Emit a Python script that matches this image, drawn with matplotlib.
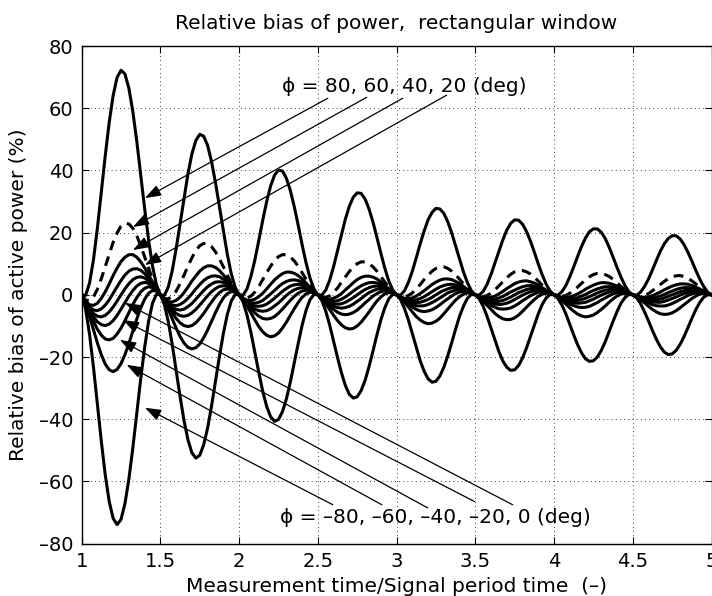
import numpy as np
import matplotlib
matplotlib.use("Agg")
import matplotlib.pyplot as plt

plt.rcParams['font.family'] = ['DejaVu Sans']

# measurement time / signal period time, 1 ... 5
x_ratio = np.linspace(1.0, 5.0, 161)

# relative bias of active power (%) for each phase angle
phi80 = [
    0, -0.2, 3.8, 11.3, 21.5, 33.0, 44.8, 55.5, 64.1, 69.9, 72.2, 71.0, 66.4, 58.9, 49.4, 38.6, 27.7, 17.6, 9.2, 3.2,
    0, -0.2, 2.5, 7.7, 14.8, 22.9, 31.2, 38.9, 45.3, 49.6, 51.6, 51.0, 48.0, 42.8, 36.0, 28.3, 20.4, 13.0, 6.8, 2.4,
    0, -0.1, 1.9, 5.9, 11.2, 17.5, 24.0, 30.0, 35.0, 38.5, 40.1, 39.8, 37.5, 33.6, 28.4, 22.4, 16.1, 10.3, 5.4, 1.9,
    0, -0.1, 1.5, 4.7, 9.1, 14.2, 19.4, 24.4, 28.5, 31.4, 32.8, 32.6, 30.8, 27.6, 23.4, 18.5, 13.4, 8.6, 4.5, 1.6,
    0, -0.1, 1.3, 4.0, 7.6, 11.9, 16.4, 20.5, 24.1, 26.5, 27.8, 27.6, 26.2, 23.5, 19.9, 15.7, 11.4, 7.3, 3.9, 1.3,
    0, -0.1, 1.1, 3.4, 6.6, 10.3, 14.1, 17.7, 20.8, 23.0, 24.1, 24.0, 22.7, 20.4, 17.3, 13.7, 9.9, 6.4, 3.4, 1.2,
    0, -0.1, 1.0, 3.0, 5.8, 9.0, 12.4, 15.6, 18.3, 20.3, 21.2, 21.2, 20.1, 18.1, 15.3, 12.1, 8.8, 5.7, 3.0, 1.0,
    0, -0.1, 0.9, 2.7, 5.1, 8.0, 11.1, 14.0, 16.4, 18.1, 19.0, 19.0, 18.0, 16.2, 13.7, 10.9, 7.9, 5.1, 2.7, 0.9,
    0]

phi60 = [
    0, -1.7, -1.9, -0.7, 1.8, 5.2, 9.1, 13.1, 16.9, 19.9, 22.1, 23.0, 22.8, 21.4, 19.0, 15.8, 12.2, 8.5, 5.0, 2.1,
    0, -1.2, -1.3, -0.5, 1.2, 3.6, 6.3, 9.2, 11.9, 14.2, 15.8, 16.5, 16.5, 15.5, 13.8, 11.6, 9.0, 6.3, 3.7, 1.6,
    0, -0.9, -1.0, -0.4, 0.9, 2.7, 4.9, 7.1, 9.2, 11.0, 12.3, 12.9, 12.9, 12.2, 10.9, 9.2, 7.1, 5.0, 3.0, 1.3,
    0, -0.7, -0.8, -0.3, 0.8, 2.2, 4.0, 5.8, 7.5, 9.0, 10.0, 10.6, 10.6, 10.0, 9.0, 7.6, 5.9, 4.1, 2.5, 1.1,
    0, -0.6, -0.7, -0.2, 0.6, 1.9, 3.3, 4.9, 6.3, 7.6, 8.5, 9.0, 9.0, 8.5, 7.6, 6.4, 5.0, 3.5, 2.1, 0.9,
    0, -0.5, -0.6, -0.2, 0.5, 1.6, 2.9, 4.2, 5.5, 6.6, 7.4, 7.8, 7.8, 7.4, 6.7, 5.6, 4.4, 3.1, 1.9, 0.8,
    0, -0.4, -0.5, -0.2, 0.5, 1.4, 2.5, 3.7, 4.8, 5.8, 6.5, 6.9, 6.9, 6.5, 5.9, 5.0, 3.9, 2.7, 1.6, 0.7,
    0, -0.4, -0.4, -0.2, 0.4, 1.3, 2.3, 3.3, 4.3, 5.2, 5.8, 6.1, 6.2, 5.9, 5.3, 4.5, 3.5, 2.5, 1.5, 0.6,
    0]

phi40 = [
    0, -2.1, -3.2, -3.4, -2.7, -1.1, 1.0, 3.5, 6.2, 8.6, 10.7, 12.1, 12.9, 12.9, 12.1, 10.6, 8.7, 6.4, 4.1, 1.9,
    0, -1.4, -2.2, -2.3, -1.8, -0.8, 0.7, 2.5, 4.4, 6.1, 7.6, 8.7, 9.3, 9.3, 8.8, 7.8, 6.4, 4.8, 3.1, 1.4,
    0, -1.1, -1.7, -1.8, -1.4, -0.6, 0.5, 1.9, 3.4, 4.8, 5.9, 6.8, 7.3, 7.3, 6.9, 6.2, 5.1, 3.8, 2.4, 1.1,
    0, -0.8, -1.3, -1.4, -1.1, -0.5, 0.4, 1.6, 2.7, 3.9, 4.9, 5.6, 6.0, 6.0, 5.7, 5.1, 4.2, 3.1, 2.0, 0.9,
    0, -0.7, -1.1, -1.2, -1.0, -0.4, 0.4, 1.3, 2.3, 3.3, 4.1, 4.7, 5.1, 5.1, 4.9, 4.3, 3.6, 2.7, 1.7, 0.8,
    0, -0.6, -1.0, -1.0, -0.8, -0.4, 0.3, 1.1, 2.0, 2.8, 3.6, 4.1, 4.4, 4.5, 4.2, 3.8, 3.1, 2.3, 1.5, 0.7,
    0, -0.5, -0.8, -0.9, -0.7, -0.3, 0.3, 1.0, 1.8, 2.5, 3.1, 3.6, 3.9, 3.9, 3.7, 3.3, 2.8, 2.1, 1.3, 0.6,
    0, -0.5, -0.7, -0.8, -0.6, -0.3, 0.3, 0.9, 1.6, 2.2, 2.8, 3.2, 3.5, 3.5, 3.4, 3.0, 2.5, 1.9, 1.2, 0.6,
    0]

phi20 = [
    0, -2.3, -3.9, -4.9, -5.1, -4.5, -3.3, -1.6, 0.5, 2.6, 4.6, 6.4, 7.6, 8.3, 8.4, 7.9, 6.8, 5.4, 3.6, 1.8,
    0, -1.5, -2.7, -3.3, -3.5, -3.1, -2.3, -1.1, 0.3, 1.9, 3.3, 4.6, 5.5, 6.0, 6.1, 5.8, 5.0, 4.0, 2.7, 1.3,
    0, -1.1, -2.0, -2.5, -2.7, -2.4, -1.8, -0.8, 0.3, 1.4, 2.6, 3.6, 4.3, 4.7, 4.8, 4.6, 4.0, 3.1, 2.1, 1.1,
    0, -0.9, -1.6, -2.0, -2.1, -1.9, -1.4, -0.7, 0.2, 1.2, 2.1, 2.9, 3.5, 3.9, 4.0, 3.8, 3.3, 2.6, 1.8, 0.9,
    0, -0.8, -1.4, -1.7, -1.8, -1.6, -1.2, -0.6, 0.2, 1.0, 1.8, 2.5, 3.0, 3.3, 3.4, 3.2, 2.8, 2.2, 1.5, 0.7,
    0, -0.7, -1.2, -1.5, -1.5, -1.4, -1.0, -0.5, 0.2, 0.9, 1.5, 2.1, 2.6, 2.9, 3.0, 2.8, 2.5, 1.9, 1.3, 0.7,
    0, -0.6, -1.0, -1.3, -1.4, -1.2, -0.9, -0.4, 0.1, 0.8, 1.4, 1.9, 2.3, 2.6, 2.6, 2.5, 2.2, 1.7, 1.2, 0.6,
    0, -0.5, -0.9, -1.1, -1.2, -1.1, -0.8, -0.4, 0.1, 0.7, 1.2, 1.7, 2.1, 2.3, 2.3, 2.2, 2.0, 1.5, 1.1, 0.5,
    0]

phi0 = [
    0, -2.4, -4.5, -6.0, -6.9, -7.1, -6.6, -5.5, -3.9, -2.0, 0, 1.9, 3.6, 4.9, 5.6, 5.8, 5.4, 4.5, 3.2, 1.7,
    0, -1.6, -3.0, -4.1, -4.7, -4.9, -4.6, -3.8, -2.8, -1.4, 0, 1.4, 2.6, 3.5, 4.1, 4.2, 4.0, 3.3, 2.4, 1.2,
    0, -1.2, -2.3, -3.1, -3.6, -3.7, -3.5, -3.0, -2.1, -1.1, 0, 1.1, 2.0, 2.8, 3.2, 3.4, 3.2, 2.7, 1.9, 1.0,
    0, -1.0, -1.8, -2.5, -2.9, -3.0, -2.9, -2.4, -1.7, -0.9, 0, 0.9, 1.7, 2.3, 2.7, 2.8, 2.6, 2.2, 1.6, 0.8,
    0, -0.8, -1.5, -2.1, -2.4, -2.5, -2.4, -2.0, -1.5, -0.8, 0, 0.8, 1.4, 1.9, 2.3, 2.4, 2.2, 1.9, 1.4, 0.7,
    0, -0.7, -1.3, -1.8, -2.1, -2.2, -2.1, -1.8, -1.3, -0.7, 0, 0.7, 1.2, 1.7, 2.0, 2.1, 1.9, 1.6, 1.2, 0.6,
    0, -0.6, -1.2, -1.6, -1.8, -1.9, -1.8, -1.5, -1.1, -0.6, 0, 0.6, 1.1, 1.5, 1.7, 1.8, 1.7, 1.5, 1.1, 0.5,
    0, -0.5, -1.0, -1.4, -1.6, -1.7, -1.6, -1.4, -1.0, -0.5, 0, 0.5, 1.0, 1.3, 1.6, 1.6, 1.5, 1.3, 0.9, 0.5,
    0]

phim20 = [
    0, -2.5, -5.0, -7.1, -8.7, -9.6, -9.9, -9.4, -8.3, -6.6, -4.6, -2.5, -0.4, 1.4, 2.8, 3.7, 4.0, 3.7, 2.8, 1.6,
    0, -1.7, -3.4, -4.8, -6.0, -6.7, -6.9, -6.6, -5.8, -4.7, -3.3, -1.8, -0.3, 1.0, 2.0, 2.7, 2.9, 2.7, 2.1, 1.2,
    0, -1.3, -2.6, -3.7, -4.6, -5.1, -5.3, -5.1, -4.5, -3.6, -2.6, -1.4, -0.2, 0.8, 1.6, 2.1, 2.3, 2.2, 1.7, 0.9,
    0, -1.0, -2.1, -3.0, -3.7, -4.1, -4.3, -4.1, -3.7, -3.0, -2.1, -1.2, -0.2, 0.7, 1.3, 1.8, 1.9, 1.8, 1.4, 0.8,
    0, -0.9, -1.7, -2.5, -3.1, -3.5, -3.6, -3.5, -3.1, -2.5, -1.8, -1.0, -0.2, 0.6, 1.1, 1.5, 1.6, 1.5, 1.2, 0.7,
    0, -0.7, -1.5, -2.1, -2.7, -3.0, -3.1, -3.0, -2.7, -2.2, -1.5, -0.8, -0.1, 0.5, 1.0, 1.3, 1.4, 1.3, 1.0, 0.6,
    0, -0.6, -1.3, -1.9, -2.3, -2.6, -2.7, -2.6, -2.4, -1.9, -1.4, -0.7, -0.1, 0.4, 0.9, 1.2, 1.3, 1.2, 0.9, 0.5,
    0, -0.6, -1.1, -1.7, -2.1, -2.3, -2.4, -2.4, -2.1, -1.7, -1.2, -0.7, -0.1, 0.4, 0.8, 1.0, 1.1, 1.1, 0.8, 0.5,
    0]

phim40 = [
    0, -2.7, -5.7, -8.5, -11.1, -13.0, -14.2, -14.5, -14.0, -12.6, -10.7, -8.3, -5.7, -3.1, -0.9, 0.9, 2.1, 2.6, 2.3, 1.4,
    0, -1.8, -3.8, -5.8, -7.6, -9.0, -9.9, -10.2, -9.9, -9.0, -7.6, -6.0, -4.1, -2.3, -0.6, 0.7, 1.6, 1.9, 1.7, 1.1,
    0, -1.4, -2.9, -4.4, -5.8, -6.9, -7.6, -7.8, -7.6, -7.0, -5.9, -4.6, -3.2, -1.8, -0.5, 0.5, 1.2, 1.5, 1.4, 0.9,
    0, -1.1, -2.3, -3.6, -4.7, -5.6, -6.2, -6.4, -6.2, -5.7, -4.9, -3.8, -2.6, -1.5, -0.4, 0.4, 1.0, 1.3, 1.2, 0.7,
    0, -0.9, -2.0, -3.0, -3.9, -4.7, -5.2, -5.4, -5.2, -4.8, -4.1, -3.2, -2.2, -1.3, -0.4, 0.4, 0.9, 1.1, 1.0, 0.6,
    0, -0.8, -1.7, -2.6, -3.4, -4.0, -4.5, -4.6, -4.5, -4.2, -3.6, -2.8, -1.9, -1.1, -0.3, 0.3, 0.8, 0.9, 0.9, 0.5,
    0, -0.7, -1.5, -2.3, -3.0, -3.5, -3.9, -4.1, -4.0, -3.7, -3.1, -2.5, -1.7, -1.0, -0.3, 0.3, 0.7, 0.8, 0.8, 0.5,
    0, -0.6, -1.3, -2.0, -2.6, -3.2, -3.5, -3.6, -3.6, -3.3, -2.8, -2.2, -1.5, -0.9, -0.2, 0.3, 0.6, 0.7, 0.7, 0.4,
    0]

phim60 = [
    0, -3.1, -7.0, -11.3, -15.5, -19.3, -22.3, -24.1, -24.7, -24.0, -22.1, -19.2, -15.6, -11.7, -7.8, -4.2, -1.4, 0.5, 1.4, 1.2,
    0, -2.1, -4.7, -7.7, -10.7, -13.4, -15.5, -16.9, -17.4, -17.0, -15.8, -13.8, -11.3, -8.5, -5.7, -3.1, -1.0, 0.4, 1.0, 0.9,
    0, -1.5, -3.6, -5.8, -8.1, -10.2, -11.9, -13.0, -13.5, -13.2, -12.3, -10.7, -8.8, -6.6, -4.5, -2.5, -0.8, 0.3, 0.8, 0.7,
    0, -1.2, -2.9, -4.7, -6.6, -8.3, -9.7, -10.6, -11.0, -10.8, -10.0, -8.8, -7.2, -5.5, -3.7, -2.0, -0.7, 0.3, 0.7, 0.6,
    0, -1.0, -2.4, -3.9, -5.5, -7.0, -8.1, -8.9, -9.3, -9.1, -8.5, -7.5, -6.1, -4.6, -3.1, -1.7, -0.6, 0.2, 0.6, 0.5,
    0, -0.9, -2.1, -3.4, -4.7, -6.0, -7.0, -7.7, -8.0, -7.9, -7.4, -6.5, -5.3, -4.0, -2.7, -1.5, -0.5, 0.2, 0.5, 0.4,
    0, -0.8, -1.8, -3.0, -4.2, -5.3, -6.2, -6.8, -7.1, -6.9, -6.5, -5.7, -4.7, -3.6, -2.4, -1.3, -0.4, 0.2, 0.5, 0.4,
    0, -0.7, -1.6, -2.6, -3.7, -4.7, -5.5, -6.1, -6.3, -6.2, -5.8, -5.1, -4.2, -3.2, -2.2, -1.2, -0.4, 0.2, 0.4, 0.4,
    0]

phim80 = [
    0, -4.6, -12.7, -23.3, -35.2, -47.2, -58.0, -66.5, -71.9, -73.9, -72.2, -67.1, -59.2, -49.2, -38.2, -27.0, -16.9, -8.5, -2.7, 0.2,
    0, -3.1, -8.6, -15.9, -24.2, -32.7, -40.4, -46.6, -50.8, -52.5, -51.6, -48.2, -42.8, -35.7, -27.8, -19.8, -12.4, -6.3, -2.0, 0.1,
    0, -2.3, -6.5, -12.1, -18.5, -25.0, -31.0, -35.9, -39.2, -40.7, -40.1, -37.6, -33.5, -28.1, -21.9, -15.7, -9.8, -5.0, -1.6, 0.1,
    0, -1.8, -5.2, -9.7, -14.9, -20.2, -25.1, -29.2, -32.0, -33.2, -32.8, -30.8, -27.5, -23.1, -18.1, -12.9, -8.1, -4.2, -1.3, 0.1,
    0, -1.5, -4.4, -8.1, -12.5, -17.0, -21.2, -24.6, -27.0, -28.1, -27.8, -26.1, -23.3, -19.6, -15.4, -11.0, -6.9, -3.6, -1.1, 0.1,
    0, -1.3, -3.7, -7.0, -10.8, -14.6, -18.3, -21.3, -23.3, -24.3, -24.1, -22.7, -20.3, -17.1, -13.4, -9.6, -6.1, -3.1, -1.0, 0.1,
    0, -1.2, -3.3, -6.1, -9.5, -12.9, -16.1, -18.7, -20.6, -21.4, -21.2, -20.0, -17.9, -15.1, -11.8, -8.5, -5.4, -2.7, -0.9, 0.1,
    0, -1.0, -2.9, -5.5, -8.4, -11.5, -14.3, -16.7, -18.4, -19.2, -19.0, -17.9, -16.0, -13.5, -10.6, -7.6, -4.8, -2.5, -0.8, 0.0,
    0]

x_ticks = [1, 1.5, 2, 2.5, 3, 3.5, 4, 4.5, 5]
x_tick_labels = ['1', '1.5', '2', '2.5', '3', '3.5', '4', '4.5', '5']
y_ticks = [-80, -60, -40, -20, 0, 20, 40, 60, 80]
y_tick_labels = ['\u201380', '\u201360', '\u201340', '\u201320', '0', '20', '40', '60', '80']

title_text = 'Relative bias of power,  rectangular window'
x_label = 'Measurement time/Signal period time  (\u2013)'
y_label = 'Relative bias of active power (%)'
upper_note = '\u03d5 = 80, 60, 40, 20 (deg)'
lower_note = '\u03d5 = \u201380, \u201360, \u201340, \u201320, 0 (deg)'

# arrows: (head x, head y, tail x, tail y) in data coordinates
upper_arrows = [(1.402, 31.1, 2.563, 63.2),
                (1.326, 21.8, 2.810, 63.5),
                (1.326, 14.4, 3.039, 63.2),
                (1.402, 9.6, 3.318, 64.2)]
lower_arrows = [(1.402, -36.3, 2.595, -67.5),
                (1.286, -22.5, 2.906, -67.5),
                (1.243, -14.5, 3.197, -68.5),
                (1.262, -8.1, 3.496, -66.5),
                (1.275, -2.6, 3.737, -67.5)]

fig = plt.figure(figsize=(7.12, 5.96), dpi=100)
ax = fig.add_axes([0.1147, 0.0879, 0.8846, 0.8349])

curves = [phi80, phi60, phi40, phi20, phi0, phim20, phim40, phim60, phim80]
styles = ['-', (0, (3.2, 2.2)), '-', '-', '-', '-', '-', '-', '-']
for y, ls in zip(curves, styles):
    ax.plot(x_ratio, y, color='black', lw=2.2, linestyle=ls,
            solid_joinstyle='round', dash_capstyle='butt', zorder=3)

ax.set_xlim(1, 5)
ax.set_ylim(-80, 80)
ax.set_xticks(x_ticks)
ax.set_xticklabels(x_tick_labels)
ax.set_yticks(y_ticks)
ax.set_yticklabels(y_tick_labels)
ax.grid(True, color='black', linestyle=(0, (1, 4)), linewidth=0.6)
ax.tick_params(direction='in', length=5, width=0.8, top=True, right=True,
               labelsize=14, pad=6)
for s in ax.spines.values():
    s.set_linewidth(1.0)

ax.set_title(title_text, fontsize=14.5, pad=12)
ax.set_xlabel(x_label, fontsize=14.5, labelpad=4)
ax.set_ylabel(y_label, fontsize=14.5, labelpad=8)

ax.text(2.271, 67.0, upper_note, fontsize=14.5, ha='left', va='center', zorder=5)
ax.text(2.259, -71.6, lower_note, fontsize=14.5, ha='left', va='center', zorder=5)

aprops = dict(arrowstyle='-|>,head_length=0.7,head_width=0.25', color='black',
              lw=0.9, shrinkA=0, shrinkB=0, mutation_scale=14)
for hx, hy, tx, ty in upper_arrows + lower_arrows:
    ax.annotate('', xy=(hx, hy), xytext=(tx, ty), arrowprops=aprops, zorder=4)

fig.savefig('out.png', dpi=100)
